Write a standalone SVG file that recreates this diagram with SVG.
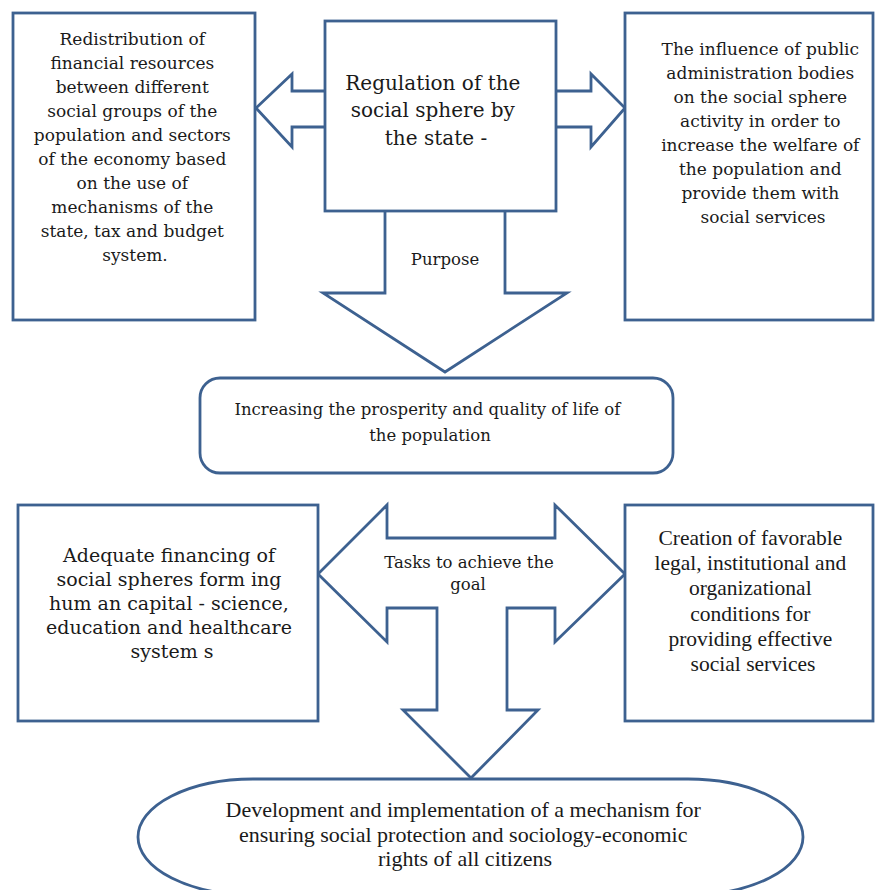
<svg xmlns="http://www.w3.org/2000/svg" width="875" height="890" viewBox="0 0 875 890">
<style>
.shape{fill:#fff;stroke:#3d6190;stroke-width:2.8;stroke-linejoin:miter}
.c{font-family:"DejaVu Serif","Liberation Serif",serif;fill:#1a1a1a;text-anchor:middle}
.tnr{font-family:"Liberation Serif","Times New Roman",serif;fill:#1a1a1a;text-anchor:middle}
</style>
<rect width="875" height="890" fill="#fff"/>
<g id="connectors">
  <path class="shape" d="M325,91 L292,91 L292,74 L256,108 L292,147 L292,127 L325,127"/>
  <path class="shape" d="M556,91 L591,91 L591,74 L625,108 L591,147 L591,127 L556,127"/>
  <path class="shape" d="M385,211 L385,293 L323,293 L445,372 L567,293 L505,293 L505,211"/>
  <text class="c" x="445" y="265" font-size="16.5">Purpose</text>
  <path class="shape" d="M318,574 L387,505 L387,538 L555,538 L555,505 L625,574 L555,642 L555,608 L507,608 L507,710 L538,710 L471,778 L403,710 L437,710 L437,608 L387,608 L387,642 Z"/>
  <text class="c" font-size="16.5"><tspan x="469" y="568">Tasks to achieve the</tspan><tspan x="468" y="590">goal</tspan></text>
</g>
<g id="node-redistribution">
  <rect class="shape" x="13" y="13" width="242" height="307"/>
  <text class="c" font-size="17">
    <tspan x="135" y="45">Redistribution of</tspan>
    <tspan x="135" y="69">financial resources</tspan>
    <tspan x="135" y="93">between different</tspan>
    <tspan x="135" y="117">social groups of the</tspan>
    <tspan x="135" y="141">population and sectors</tspan>
    <tspan x="135" y="165">of the economy based</tspan>
    <tspan x="135" y="189">on the use of</tspan>
    <tspan x="135" y="213">mechanisms of the</tspan>
    <tspan x="135" y="237">state, tax and budget</tspan>
    <tspan x="135" y="261">system.</tspan>
  </text>
</g>
<g id="node-regulation">
  <rect class="shape" x="325" y="21" width="231" height="190"/>
  <text class="c" font-size="20">
    <tspan x="436" y="90">Regulation of the</tspan>
    <tspan x="436" y="117">social sphere by</tspan>
    <tspan x="436" y="145">the state -</tspan>
  </text>
</g>
<g id="node-influence">
  <rect class="shape" x="625" y="13" width="248" height="307"/>
  <text class="c" font-size="17">
    <tspan x="763" y="55">The influence of public</tspan>
    <tspan x="763" y="79">administration bodies</tspan>
    <tspan x="763" y="103">on the social sphere</tspan>
    <tspan x="763" y="127">activity in order to</tspan>
    <tspan x="763" y="151">increase the welfare of</tspan>
    <tspan x="763" y="175">the population and</tspan>
    <tspan x="763" y="199">provide them with</tspan>
    <tspan x="763" y="223">social services</tspan>
  </text>
</g>
<g id="node-goal">
  <rect class="shape" x="200" y="378" width="473" height="95" rx="20" ry="20"/>
  <text class="c" font-size="16.5">
    <tspan x="430" y="415">Increasing the prosperity and quality of life of</tspan>
    <tspan x="430" y="441">the population</tspan>
  </text>
</g>
<g id="node-financing">
  <rect class="shape" x="18" y="505" width="300" height="216"/>
  <text class="c" font-size="19">
    <tspan x="172" y="562">Adequate financing of</tspan>
    <tspan x="172" y="586">social spheres form ing</tspan>
    <tspan x="172" y="610">hum an capital - science,</tspan>
    <tspan x="172" y="634">education and healthcare</tspan>
    <tspan x="172" y="658">system s</tspan>
  </text>
</g>
<g id="node-conditions">
  <rect class="shape" x="625" y="505" width="248" height="216"/>
  <text class="tnr" font-size="21.5">
    <tspan x="753" y="545">Creation of favorable</tspan>
    <tspan x="753" y="570">legal, institutional and</tspan>
    <tspan x="753" y="595">organizational</tspan>
    <tspan x="753" y="621">conditions for</tspan>
    <tspan x="753" y="646">providing effective</tspan>
    <tspan x="753" y="671">social services</tspan>
  </text>
</g>
<g id="node-mechanism">
  <path class="shape" d="M253,779 H688 A115,58 0 0 1 803,837 A115,58 0 0 1 688,895 H253 A115,58 0 0 1 138,837 A115,58 0 0 1 253,779 Z"/>
  <text class="tnr" font-size="22">
    <tspan x="466" y="817">Development and implementation  of a mechanism  for</tspan>
    <tspan x="466" y="842">ensuring social protection and sociology-economic</tspan>
    <tspan x="465" y="866">rights of all citizens</tspan>
  </text>
</g>
</svg>
